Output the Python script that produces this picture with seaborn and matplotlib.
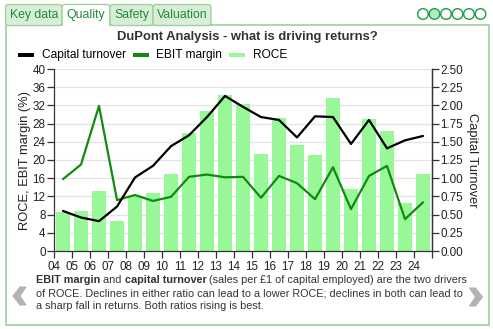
import numpy as np
import pandas as pd
import seaborn as sns
import matplotlib
matplotlib.use("Agg")
import matplotlib.pyplot as plt
from matplotlib.patches import Rectangle, FancyBboxPatch, Circle, Polygon

years = ["04", "05", "06", "07", "08", "09", "10", "11", "12", "13", "14",
         "15", "16", "17", "18", "19", "20", "21", "22", "23", "24"]
roce = [8.6, 8.8, 13.1, 6.7, 12.1, 12.7, 17.0, 26.0, 30.8, 34.3, 32.2,
        21.3, 29.3, 23.2, 21.1, 33.6, 13.6, 29.1, 26.4, 10.5, 17.0]
ebit_margin = [15.8, 19.0, 31.9, 11.2, 12.3, 11.0, 11.9, 16.3, 16.8, 16.2, 16.3,
               11.7, 16.5, 14.9, 11.4, 18.4, 9.2, 16.5, 18.7, 7.0, 10.7]
capital_turnover = [0.55, 0.46, 0.41, 0.61, 1.01, 1.17, 1.44, 1.59, 1.84, 2.13, 1.98,
                    1.84, 1.80, 1.56, 1.85, 1.84, 1.47, 1.80, 1.41, 1.52, 1.58]
left_ticks = [0, 4, 8, 12, 16, 20, 24, 28, 32, 36, 40]
right_ticks = [0.0, 0.25, 0.5, 0.75, 1.0, 1.25, 1.5, 1.75, 2.0, 2.25, 2.5]

W, H = 493, 329
sns.set_theme(style="white")
plt.rcParams['font.family'] = ['Liberation Sans', 'DejaVu Sans']

fig = plt.figure(figsize=(W / 100, H / 100), dpi=100)
tr = fig.dpi_scale_trans

def P(x, y):
    return (x / 100.0, (H - y) / 100.0)

TXT = "#333333"
GRN_TXT = "#1f8a3c"
BORDER = "#9fd09f"
TAB_FILL = "#d9eed9"

# ---- frame and tabs ----
fig.add_artist(Rectangle(P(5.5, 324.5), 483.5 / 100, 299.5 / 100, transform=tr,
                         fill=False, edgecolor=BORDER, lw=1.2, zorder=1))
tabs = [("Key data", 5.5, 62, False), ("Quality", 62, 110, True),
        ("Safety", 110, 153, False), ("Valuation", 153, 211, False)]
for name, x0, x1, sel in tabs:
    fc = "white" if sel else TAB_FILL
    fig.add_artist(FancyBboxPatch(P(x0, 25.5), (x1 - x0) / 100, 21 / 100,
                                  boxstyle="round,pad=0,rounding_size=0.03",
                                  transform=tr, facecolor=fc, edgecolor=BORDER,
                                  lw=1.0, zorder=2))
    if sel:
        fig.add_artist(Rectangle(P(x0 + 0.8, 27), (x1 - x0 - 1.6) / 100, 3 / 100,
                                 transform=tr, facecolor="white", edgecolor="none",
                                 zorder=3))
    fig.text(*P((x0 + x1) / 2, 15), name, transform=tr, ha="center", va="center",
             fontsize=8.8, color=GRN_TXT, zorder=4)

# pager circles
for i, cx in enumerate([423, 434.5, 446, 457.5, 469, 480.5]):
    fig.add_artist(Circle(P(cx, 14), 0.053, transform=tr,
                          facecolor="#aeeec3" if i == 1 else "white",
                          edgecolor="#1f9a45", lw=1.0, zorder=4))

# chevrons
def chevron(cx, cy, direction):
    d = direction
    pts = [(cx + 6 * d, cy - 9), (cx - 0 * d, cy), (cx + 6 * d, cy + 9),
           (cx + 0 * d, cy + 9), (cx - 7 * d, cy), (cx + 0 * d, cy - 9)]
    pts = [P(x, y) for x, y in pts]
    fig.add_artist(Polygon(pts, closed=True, transform=tr, facecolor="#b3b3b3",
                           edgecolor="#b3b3b3", lw=0.8, zorder=4))
chevron(20, 296, 1)
chevron(475.5, 297, -1)

# ---- title & legend ----
fig.text(*P(247.5, 37), "DuPont Analysis - what is driving returns?", transform=tr,
         ha="center", va="center", fontsize=9.4, fontweight="bold", color=TXT)
leg = [("Capital turnover", "black", 18, 42), ("EBIT margin", "#118a11", 133, 156),
       ("ROCE", "#98f898", 229, 253)]
for lab, col, px0, tx in leg:
    fig.add_artist(Rectangle(P(px0, 57), 16 / 100, 4.5 / 100, transform=tr,
                             facecolor=col, edgecolor="none"))
    fig.text(*P(tx, 55), lab, transform=tr, ha="left", va="center",
             fontsize=8.6, color="black")

# ---- chart ----
x0, x1, yt, yb = 54, 432, 69, 251
ax = fig.add_axes([x0 / W, 1 - yb / H, (x1 - x0) / W, (yb - yt) / H])
idx = np.arange(len(years))
df = pd.DataFrame({"i": idx, "ROCE": roce, "EBIT": ebit_margin, "CT": capital_turnover})

sns.barplot(data=df, x="i", y="ROCE", color="#98f898", saturation=1, width=0.83,
            ax=ax, native_scale=True, zorder=2)
for p in ax.patches:
    p.set_edgecolor("none")
sns.lineplot(data=df, x="i", y="EBIT", color="#118a11", lw=1.6, ax=ax, zorder=4)
ax.set_xlim(-0.5, len(years) - 0.5)
ax.set_ylim(0, 40)
ax.set_yticks(left_ticks)
ax.set_yticklabels([str(t) for t in left_ticks], fontsize=8.4, color="#222222")
ax.set_xticks(np.arange(-0.5, len(years) + 0.5, 1))
ax.set_xticklabels(years + [""], fontsize=8.4, color="#222222")
ax.grid(axis="y", color="#e4e4e4", lw=0.9, zorder=0)
ax.set_axisbelow(True)
ax.set_xlabel("")
ax.set_ylabel("ROCE, EBIT margin (%)", fontsize=9.3, color="#222222", labelpad=1)
ax.tick_params(axis="y", length=5, width=0.9, color="#333333", pad=1, left=True)
ax.tick_params(axis="x", length=5, width=0.9, color="#333333", pad=2, bottom=True)
for s in ["top"]:
    ax.spines[s].set_visible(False)
for s in ["left", "bottom", "right"]:
    ax.spines[s].set_color("#333333")
    ax.spines[s].set_linewidth(0.9)

ax2 = ax.twinx()
sns.lineplot(data=df, x="i", y="CT", color="black", lw=1.6, ax=ax2, zorder=5)
ax2.set_ylim(0, 2.5)
ax2.set_yticks(right_ticks)
ax2.set_yticklabels([f"{t:.2f}" for t in right_ticks], fontsize=8.4, color="#222222")
ax2.set_ylabel("Capital Turnover", fontsize=9.3, color="#222222", rotation=270,
               labelpad=11)
ax2.tick_params(axis="y", length=5, width=0.9, color="#333333", pad=1, right=True)
ax2.grid(False)
for s in ["top", "left", "bottom"]:
    ax2.spines[s].set_visible(False)
ax2.spines["right"].set_color("#333333")
ax2.spines["right"].set_linewidth(0.9)
ax2.set_xlim(-0.5, len(years) - 0.5)

# ---- body text with bold runs ----
renderer = fig.canvas.get_renderer()
fs = 7.8
lines = [
    [("EBIT margin", True), (" and ", False), ("capital turnover", True),
     (" (sales per £1 of capital employed) are the two drivers", False)],
    [("of ROCE. Declines in either ratio can lead to a lower ROCE; declines in both can lead to", False)],
    [("a sharp fall in returns. Both ratios rising is best.", False)],
]
for li, (yy, parts) in enumerate(zip([280, 293, 306], lines)):
    cur = 36
    for txt, bold in parts:
        t = fig.text(*P(cur, yy), txt, transform=tr, ha="left", va="center",
                     fontsize=fs, fontweight="bold" if bold else "normal", color=TXT)
        w = t.get_window_extent(renderer).width
        cur += w

fig.savefig("out.png", dpi=100, facecolor="white")
